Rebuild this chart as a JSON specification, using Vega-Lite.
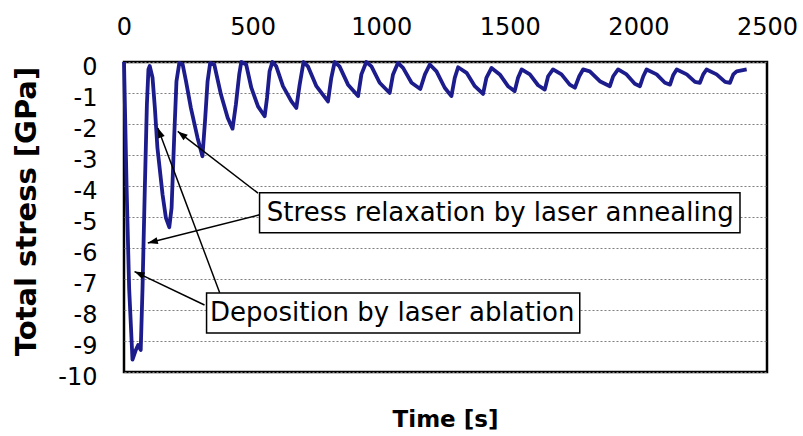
{
  "$schema": "https://vega.github.io/schema/vega-lite/v6.json",
  "width": 643,
  "height": 310,
  "autosize": "none",
  "padding": {"left": 124, "top": 62, "right": 36, "bottom": 64},
  "background": "white",
  "config": {
    "view": {"stroke": "black", "strokeWidth": 2.5},
    "font": "DejaVu Sans",
    "axisX": {"orient": "top", "grid": false, "domain": false, "ticks": false,
      "labelFont": "DejaVu Sans", "labelFontSize": 24, "labelColor": "black", "labelPadding": 23, "labelFlush": false, "labelOverlap": false},
    "axisY": {"grid": true, "gridColor": "#7f7f7f", "gridDash": [2, 2], "gridWidth": 1, "domain": false, "ticks": false,
      "labelFont": "DejaVu Sans", "labelFontSize": 24, "labelColor": "black", "labelPadding": 27, "labelOffset": 5, "labelOverlap": false,
      "titleFont": "DejaVu Sans", "titleFontSize": 29, "titleFontWeight": "bold", "titleColor": "black", "titleX": -98, "titleY": 149, "titleAngle": 270, "titleAlign": "center", "titleBaseline": "middle"}
  },
  "title": {"text": "Time [s]", "orient": "bottom", "anchor": "middle", "offset": 20, "font": "DejaVu Sans", "fontSize": 23, "fontWeight": "bold", "color": "black"},
  "datasets": {
    "series": [
      {"t": 0, "s": 0}, {"t": 10, "s": -4.0}, {"t": 20, "s": -7.3}, {"t": 33, "s": -9.6}, {"t": 46, "s": -9.29}, {"t": 55, "s": -9.13}, {"t": 65, "s": -9.29},
      {"t": 72, "s": -7.3}, {"t": 81, "s": -4.06}, {"t": 89, "s": -1.37}, {"t": 95, "s": -0.24}, {"t": 100, "s": -0.13}, {"t": 111, "s": -0.51},
      {"t": 120, "s": -1.48}, {"t": 130, "s": -2.77}, {"t": 150, "s": -4.28}, {"t": 163, "s": -5.03}, {"t": 176, "s": -5.33}, {"t": 185, "s": -4.71},
      {"t": 195, "s": -2.45}, {"t": 204, "s": -0.62}, {"t": 215, "s": -0.03}, {"t": 228, "s": -0.08}, {"t": 241, "s": -0.62}, {"t": 260, "s": -1.48},
      {"t": 286, "s": -2.45}, {"t": 305, "s": -3.04}, {"t": 315, "s": -1.91}, {"t": 325, "s": -0.62}, {"t": 335, "s": -0.03}, {"t": 351, "s": -0.08},
      {"t": 377, "s": -1.05}, {"t": 403, "s": -1.8}, {"t": 422, "s": -2.15}, {"t": 435, "s": -1.37}, {"t": 448, "s": -0.4}, {"t": 456, "s": 0},
      {"t": 475, "s": -0.08}, {"t": 495, "s": -0.83}, {"t": 521, "s": -1.43}, {"t": 547, "s": -1.75}, {"t": 556, "s": -1.16}, {"t": 566, "s": -0.3},
      {"t": 577, "s": 0}, {"t": 592, "s": -0.14}, {"t": 618, "s": -0.78}, {"t": 651, "s": -1.27}, {"t": 670, "s": -1.48}, {"t": 683, "s": -0.73},
      {"t": 698, "s": 0}, {"t": 715, "s": -0.14}, {"t": 748, "s": -0.78}, {"t": 793, "s": -1.27}, {"t": 806, "s": -0.51}, {"t": 819, "s": 0},
      {"t": 838, "s": -0.14}, {"t": 871, "s": -0.73}, {"t": 910, "s": -1.1}, {"t": 923, "s": -0.4}, {"t": 942, "s": 0}, {"t": 962, "s": -0.14},
      {"t": 994, "s": -0.67}, {"t": 1033, "s": -1.0}, {"t": 1046, "s": -0.4}, {"t": 1065, "s": -0.03}, {"t": 1085, "s": -0.19}, {"t": 1118, "s": -0.67},
      {"t": 1152, "s": -0.87}, {"t": 1170, "s": -0.4}, {"t": 1189, "s": -0.08}, {"t": 1215, "s": -0.3}, {"t": 1247, "s": -0.83}, {"t": 1273, "s": -1.1},
      {"t": 1286, "s": -0.51}, {"t": 1299, "s": -0.17}, {"t": 1332, "s": -0.35}, {"t": 1364, "s": -0.78}, {"t": 1396, "s": -1.03}, {"t": 1409, "s": -0.51},
      {"t": 1429, "s": -0.19}, {"t": 1461, "s": -0.4}, {"t": 1493, "s": -0.78}, {"t": 1519, "s": -0.94}, {"t": 1532, "s": -0.51}, {"t": 1546, "s": -0.24},
      {"t": 1578, "s": -0.4}, {"t": 1610, "s": -0.75}, {"t": 1636, "s": -0.89}, {"t": 1649, "s": -0.46}, {"t": 1668, "s": -0.24}, {"t": 1701, "s": -0.4},
      {"t": 1733, "s": -0.73}, {"t": 1753, "s": -0.83}, {"t": 1770, "s": -0.46}, {"t": 1785, "s": -0.24}, {"t": 1811, "s": -0.3}, {"t": 1850, "s": -0.62},
      {"t": 1889, "s": -0.78}, {"t": 1902, "s": -0.46}, {"t": 1921, "s": -0.24}, {"t": 1954, "s": -0.4}, {"t": 1986, "s": -0.7}, {"t": 2006, "s": -0.78},
      {"t": 2019, "s": -0.46}, {"t": 2032, "s": -0.24}, {"t": 2071, "s": -0.4}, {"t": 2103, "s": -0.67}, {"t": 2123, "s": -0.73}, {"t": 2135, "s": -0.43},
      {"t": 2149, "s": -0.24}, {"t": 2188, "s": -0.4}, {"t": 2220, "s": -0.64}, {"t": 2239, "s": -0.67}, {"t": 2252, "s": -0.4}, {"t": 2265, "s": -0.24},
      {"t": 2304, "s": -0.4}, {"t": 2337, "s": -0.64}, {"t": 2356, "s": -0.67}, {"t": 2369, "s": -0.4}, {"t": 2382, "s": -0.3}, {"t": 2421, "s": -0.24}
    ],
    "boxes": [
      {"label": "Stress relaxation by laser annealing", "t1": 527, "t2": 2395, "s1": -4.22, "s2": -5.51, "tc": 1463, "sc": -4.86},
      {"label": "Deposition by laser ablation", "t1": 321, "t2": 1772, "s1": -7.45, "s2": -8.74, "tc": 1043, "sc": -8.09}
    ],
    "arrows": [
      {"id": "a1", "t1": 527, "s1": -4.93, "t2": 92.6, "s2": -5.84},
      {"id": "a2", "t1": 521, "s1": -4.23, "t2": 209, "s2": -2.24},
      {"id": "a3", "t1": 313, "s1": -7.84, "t2": 41, "s2": -6.76},
      {"id": "a4", "t1": 372, "s1": -7.44, "t2": 131.6, "s2": -2.13}
    ]
  },
  "layer": [
    {
      "data": {"name": "series"},
      "mark": {"type": "line", "color": "#1c1c8c", "strokeWidth": 3.8, "strokeJoin": "round", "interpolate": "linear"},
      "encoding": {
        "x": {"field": "t", "type": "quantitative", "title": null, "scale": {"domain": [0, 2500], "nice": false},
          "axis": {"values": [0, 500, 1000, 1500, 2000, 2500], "labelExpr": "'' + datum.value"}},
        "y": {"field": "s", "type": "quantitative", "title": "Total stress [GPa]", "scale": {"domain": [-10, 0], "nice": false},
          "axis": {"values": [0, -1, -2, -3, -4, -5, -6, -7, -8, -9, -10], "labelExpr": "'' + datum.value"}}
      }
    },
    {
      "data": {"name": "arrows"},
      "mark": {"type": "rule", "color": "black", "strokeWidth": 1.5},
      "encoding": {
        "x": {"field": "t1", "type": "quantitative", "title": null, "axis": {"values": [0, 500, 1000, 1500, 2000, 2500], "labelExpr": "'' + datum.value"}},
        "y": {"field": "s1", "type": "quantitative", "title": "Total stress [GPa]", "axis": {"values": [0, -1, -2, -3, -4, -5, -6, -7, -8, -9, -10], "labelExpr": "'' + datum.value"}},
        "x2": {"field": "t2"},
        "y2": {"field": "s2"}
      }
    },
    {
      "data": {"name": "boxes"},
      "mark": {"type": "rect", "fill": "white", "stroke": "black", "strokeWidth": 1.5},
      "encoding": {
        "x": {"field": "t1", "type": "quantitative", "title": null, "axis": {"values": [0, 500, 1000, 1500, 2000, 2500], "labelExpr": "'' + datum.value"}},
        "x2": {"field": "t2"},
        "y": {"field": "s1", "type": "quantitative", "title": "Total stress [GPa]", "axis": {"values": [0, -1, -2, -3, -4, -5, -6, -7, -8, -9, -10], "labelExpr": "'' + datum.value"}},
        "y2": {"field": "s2"}
      }
    },
    {
      "data": {"name": "boxes"},
      "mark": {"type": "text", "font": "DejaVu Sans", "fontSize": 26, "color": "black", "align": "center", "baseline": "middle"},
      "encoding": {
        "x": {"field": "tc", "type": "quantitative", "title": null, "axis": {"values": [0, 500, 1000, 1500, 2000, 2500], "labelExpr": "'' + datum.value"}},
        "y": {"field": "sc", "type": "quantitative", "title": "Total stress [GPa]", "axis": {"values": [0, -1, -2, -3, -4, -5, -6, -7, -8, -9, -10], "labelExpr": "'' + datum.value"}},
        "text": {"field": "label"}
      }
    },
    {
      "data": {"name": "arrows"},
      "transform": [{"filter": "datum.id == 'a1'"}],
      "mark": {"type": "point", "shape": "M0,0L-0.7,2L0.7,2Z", "filled": true, "color": "black", "opacity": 1, "size": 100, "angle": 256},
      "encoding": {
        "x": {"field": "t2", "type": "quantitative", "title": null, "axis": {"values": [0, 500, 1000, 1500, 2000, 2500], "labelExpr": "'' + datum.value"}},
        "y": {"field": "s2", "type": "quantitative", "title": "Total stress [GPa]", "axis": {"values": [0, -1, -2, -3, -4, -5, -6, -7, -8, -9, -10], "labelExpr": "'' + datum.value"}}
      }
    },
    {
      "data": {"name": "arrows"},
      "transform": [{"filter": "datum.id == 'a2'"}],
      "mark": {"type": "point", "shape": "M0,0L-0.7,2L0.7,2Z", "filled": true, "color": "black", "opacity": 1, "size": 100, "angle": 308},
      "encoding": {
        "x": {"field": "t2", "type": "quantitative", "title": null, "axis": {"values": [0, 500, 1000, 1500, 2000, 2500], "labelExpr": "'' + datum.value"}},
        "y": {"field": "s2", "type": "quantitative", "title": "Total stress [GPa]", "axis": {"values": [0, -1, -2, -3, -4, -5, -6, -7, -8, -9, -10], "labelExpr": "'' + datum.value"}}
      }
    },
    {
      "data": {"name": "arrows"},
      "transform": [{"filter": "datum.id == 'a3'"}],
      "mark": {"type": "point", "shape": "M0,0L-0.7,2L0.7,2Z", "filled": true, "color": "black", "opacity": 1, "size": 100, "angle": 295},
      "encoding": {
        "x": {"field": "t2", "type": "quantitative", "title": null, "axis": {"values": [0, 500, 1000, 1500, 2000, 2500], "labelExpr": "'' + datum.value"}},
        "y": {"field": "s2", "type": "quantitative", "title": "Total stress [GPa]", "axis": {"values": [0, -1, -2, -3, -4, -5, -6, -7, -8, -9, -10], "labelExpr": "'' + datum.value"}}
      }
    },
    {
      "data": {"name": "arrows"},
      "transform": [{"filter": "datum.id == 'a4'"}],
      "mark": {"type": "point", "shape": "M0,0L-0.7,2L0.7,2Z", "filled": true, "color": "black", "opacity": 1, "size": 100, "angle": 339},
      "encoding": {
        "x": {"field": "t2", "type": "quantitative", "title": null, "axis": {"values": [0, 500, 1000, 1500, 2000, 2500], "labelExpr": "'' + datum.value"}},
        "y": {"field": "s2", "type": "quantitative", "title": "Total stress [GPa]", "axis": {"values": [0, -1, -2, -3, -4, -5, -6, -7, -8, -9, -10], "labelExpr": "'' + datum.value"}}
      }
    }
  ]
}
